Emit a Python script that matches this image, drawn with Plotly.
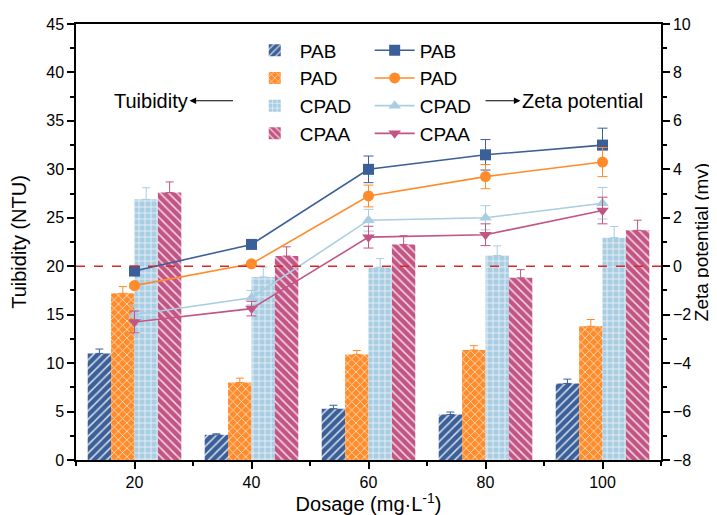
import plotly.graph_objects as go

dosage = [20, 40, 60, 80, 100]
names = ["PAB", "PAD", "CPAD", "CPAA"]

# Turbidity (NTU) bars
turb_PAB = [11.0, 2.6, 5.3, 4.7, 7.9]
turb_PAD = [17.2, 8.0, 10.9, 11.35, 13.8]
turb_CPAD = [26.9, 18.9, 19.9, 21.1, 22.95]
turb_CPAA = [27.6, 21.05, 22.25, 18.8, 23.7]
turb_err_PAB = [0.45, 0.1, 0.35, 0.25, 0.45]
turb_err_PAD = [0.7, 0.45, 0.4, 0.45, 0.7]
turb_err_CPAD = [1.2, 1.0, 0.9, 1.0, 1.15]
turb_err_CPAA = [1.1, 0.95, 0.9, 0.85, 1.05]

# Zeta potential (mV) lines
zeta_PAB = [-0.2, 0.9, 4.0, 4.6, 5.0]
zeta_PAD = [-0.8, 0.1, 2.9, 3.7, 4.3]
zeta_CPAD = [-2.0, -1.3, 1.9, 2.0, 2.6]
zeta_CPAA = [-2.3, -1.75, 1.2, 1.3, 2.3]
zeta_err_PAB = [0.1, 0.1, 0.55, 0.63, 0.7]
zeta_err_PAD = [0.1, 0.1, 0.45, 0.5, 0.6]
zeta_err_CPAD = [0.4, 0.3, 0.45, 0.5, 0.65]
zeta_err_CPAA = [0.45, 0.3, 0.45, 0.45, 0.55]

bar_colors = ["#3B5F98", "#FF8B2A", "#A9CDE2", "#C25584"]
patterns = ["/", "x", "+", "\\"]
markers = ["square", "circle", "triangle-up", "triangle-down"]

turb = [turb_PAB, turb_PAD, turb_CPAD, turb_CPAA]
turb_err = [turb_err_PAB, turb_err_PAD, turb_err_CPAD, turb_err_CPAA]
zeta = [zeta_PAB, zeta_PAD, zeta_CPAD, zeta_CPAA]
zeta_err = [zeta_err_PAB, zeta_err_PAD, zeta_err_CPAD, zeta_err_CPAA]

FONT = "Arial, Liberation Sans, sans-serif"

fig = go.Figure()

for i, n in enumerate(names):
    fig.add_trace(go.Bar(
        x=dosage, y=turb[i], name=n, legend="legend",
        marker=dict(color=bar_colors[i], line=dict(width=0),
                    pattern=dict(shape=patterns[i], fgcolor="white", fgopacity=0.8,
                                 size=6, solidity=0.25)),
        error_y=dict(type="data", array=turb_err[i], arrayminus=[0]*5, symmetric=False,
                     color=bar_colors[i], thickness=1, width=4),
        yaxis="y",
    ))

for i, n in enumerate(names):
    fig.add_trace(go.Scatter(
        x=dosage, y=zeta[i], name=n, legend="legend2", mode="lines+markers",
        line=dict(color=bar_colors[i], width=1.6),
        marker=dict(symbol=markers[i], size=11, color=bar_colors[i]),
        error_y=dict(type="data", array=zeta_err[i], color=bar_colors[i], thickness=1, width=5),
        yaxis="y2",
    ))

# reference line at 20 NTU (= 0 mV)
fig.add_shape(type="line", xref="paper", x0=0, x1=1, yref="y", y0=20, y1=20,
              line=dict(color="#D9262B", width=1.6, dash="dash"), layer="above")

# text labels with arrows whose heads point at the text
fig.add_annotation(xref="paper", yref="paper", x=0.2684, y=0.824, text="Tuibidity",
                   axref="pixel", ayref="pixel", ax=-82, ay=0,
                   showarrow=True, arrowside="start", startarrowhead=2, startarrowsize=1.2,
                   arrowwidth=1.1, arrowcolor="black", standoff=0, startstandoff=0,
                   font=dict(size=20, color="black", family=FONT))
fig.add_annotation(xref="paper", yref="paper", x=0.7, y=0.824, text="Zeta potential",
                   axref="pixel", ayref="pixel", ax=97, ay=0,
                   showarrow=True, arrowside="start", startarrowhead=2, startarrowsize=1.2,
                   arrowwidth=1.1, arrowcolor="black", standoff=0, startstandoff=0,
                   font=dict(size=20, color="black", family=FONT))

axis_common = dict(showgrid=False, zeroline=False, showline=True, linecolor="black",
                   linewidth=1.5, ticks="outside", tickcolor="black", tickwidth=1.5,
                   ticklen=7, automargin=False,
                   tickfont=dict(size=16, color="black", family=FONT))

# the page body adds an 8 px offset, so the figure is 8 px smaller on each side
fig.update_layout(
    width=709, height=507,
    margin=dict(l=68, r=56, t=16, b=55),
    plot_bgcolor="white", paper_bgcolor="white",
    font=dict(family=FONT, color="black"),
    barmode="group", bargap=0.2, bargroupgap=0,
    xaxis=dict(range=[10, 110], tickvals=dosage, mirror=True,
               minor=dict(dtick=10, tick0=0, ticks="outside", ticklen=4, tickcolor="black", tickwidth=1.5),
               title=dict(text="Dosage (mg·L<sup>-1</sup>)", font=dict(size=20, family=FONT), standoff=4),
               **axis_common),
    yaxis=dict(range=[0, 45], dtick=5,
               minor=dict(dtick=2.5, ticks="outside", ticklen=4, tickcolor="black", tickwidth=1.5),
               title=dict(text="Tuibidity (NTU)", font=dict(size=20, family=FONT), standoff=17),
               **axis_common),
    yaxis2=dict(range=[-8, 10], dtick=2, overlaying="y", side="right",
                minor=dict(dtick=1, ticks="outside", ticklen=4, tickcolor="black", tickwidth=1.5),
                title=dict(text="Zeta potential (mv)", font=dict(size=19, family=FONT), standoff=3),
                **axis_common),
    legend=dict(x=0.297, y=0.983, xanchor="left", yanchor="top", bgcolor="rgba(0,0,0,0)",
                font=dict(size=19, family=FONT), tracegroupgap=0, itemwidth=40),
    legend2=dict(x=0.502, y=0.983, xanchor="left", yanchor="top", bgcolor="rgba(0,0,0,0)",
                 font=dict(size=19, family=FONT), tracegroupgap=0, itemwidth=40),
)

fig.write_html("out.html")
